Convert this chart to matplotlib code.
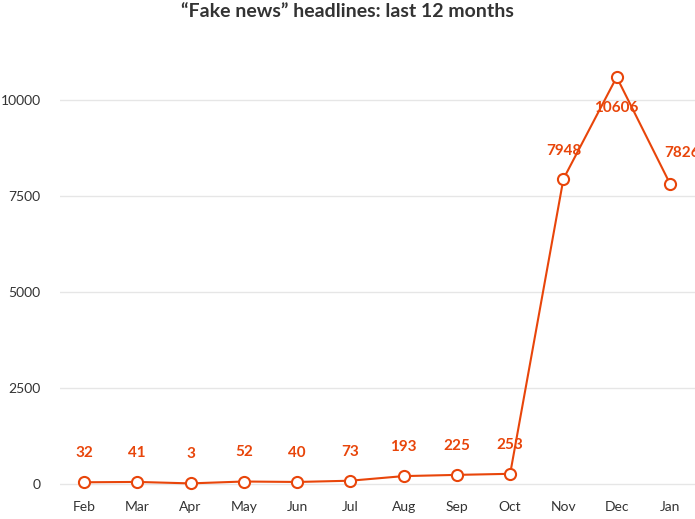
import matplotlib
matplotlib.use("Agg")
import matplotlib.pyplot as plt

MONTHS = ["Feb", "Mar", "Apr", "May", "Jun", "Jul", "Aug", "Sep", "Oct", "Nov", "Dec", "Jan"]
HEADLINES = [32, 41, 3, 52, 40, 73, 193, 225, 253, 7948, 10606, 7826]
YTICKS = [0, 2500, 5000, 7500, 10000]

ORANGE = "#e8450a"
plt.rcParams["font.family"] = ["Lato", "DejaVu Sans"]

fig = plt.figure(figsize=(6.95, 5.19), dpi=100)
ax = fig.add_axes([60 / 695, 24 / 519, 635 / 695, 433 / 519])
x = list(range(len(MONTHS)))
ax.plot(x, HEADLINES, color=ORANGE, linewidth=1.5, marker="o", markersize=8,
        markerfacecolor="white", markeredgecolor=ORANGE, markeredgewidth=1.5, zorder=3)

offsets = {"Nov": (0, 20), "Dec": (0, -22), "Jan": (9, 22)}
for i, v in enumerate(HEADLINES):
    off = offsets.get(MONTHS[i], (0, 21))
    ax.annotate(str(v), (i, v), xytext=off, textcoords="offset points",
                ha="center", va="center", color=ORANGE, fontsize=11, fontweight="bold",
                zorder=4)

ax.set_xlim(-0.45, 11.47)
ax.set_ylim(-300, 11000)
ax.set_xticks(x)
ax.set_xticklabels(MONTHS)
ax.set_yticks(YTICKS)
ax.tick_params(length=0, labelsize=10, colors="#333333")
ax.tick_params(axis="x", pad=4)
ax.tick_params(axis="y", pad=14)
ax.grid(axis="y", color="#e6e6e6", linewidth=1)
for s in ax.spines.values():
    s.set_visible(False)

fig.suptitle("\u201cFake news\u201d headlines: last 12 months", fontsize=14,
             fontweight="bold", color="#333333", y=0.995)
fig.savefig("out.png", dpi=100)
